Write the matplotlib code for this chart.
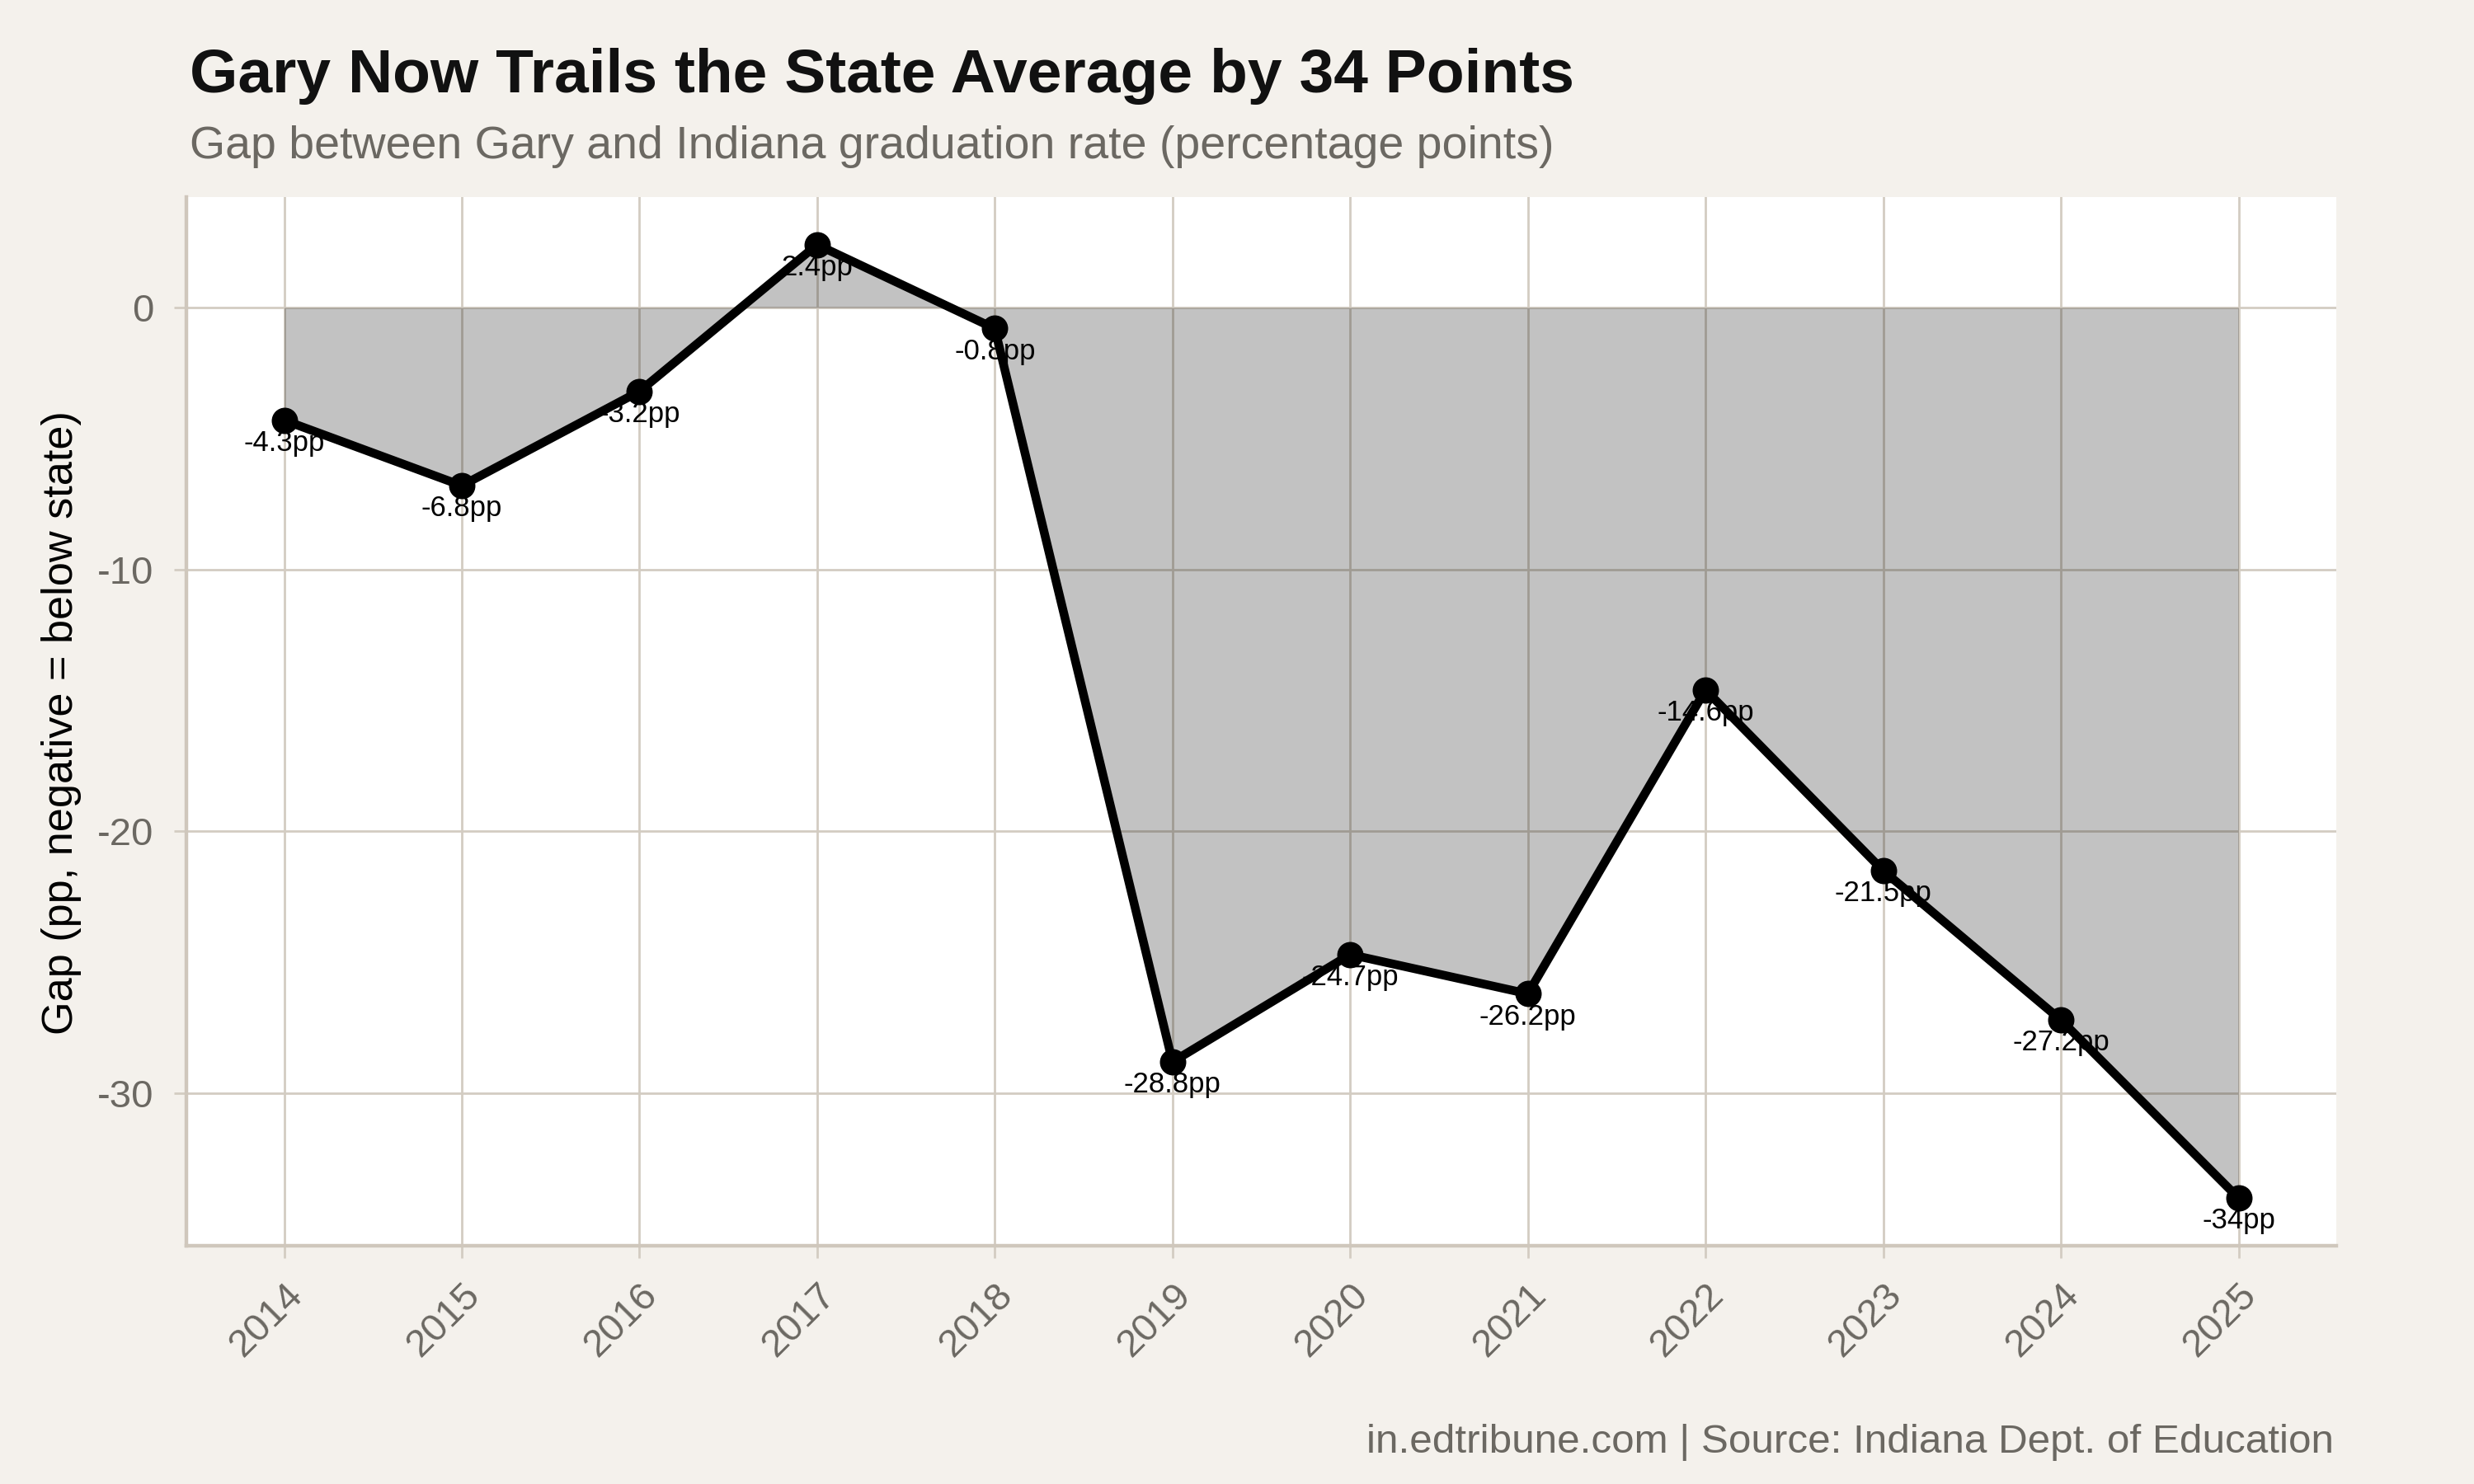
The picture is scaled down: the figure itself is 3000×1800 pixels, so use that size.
import matplotlib
matplotlib.use("Agg")
from matplotlib import pyplot as plt
from matplotlib.transforms import ScaledTranslation

years = [2014, 2015, 2016, 2017, 2018, 2019, 2020, 2021, 2022, 2023, 2024, 2025]
gap = [-4.3, -6.8, -3.2, 2.4, -0.8, -28.8, -24.7, -26.2, -14.6, -21.5, -27.2, -34.0]
y_ticks = [0, -10, -20, -30]

title = "Gary Now Trails the State Average by 34 Points"
subtitle = "Gap between Gary and Indiana graduation rate (percentage points)"
caption = "in.edtribune.com | Source: Indiana Dept. of Education"
y_label = "Gap (pp, negative = below state)"

bg = "#f4f1ec"
grid_col = "#d3ccc2"
axis_col = "#cfc7bc"
text_grey = "#6b6862"

plt.rcParams['font.family'] = ['Liberation Sans', 'DejaVu Sans']
plt.rcParams['axes.unicode_minus'] = False


def fmt_pp(v):
    s = f"{v:.1f}".rstrip('0').rstrip('.')
    return s + "pp"


W, H = 3000, 1800
fig = plt.figure(figsize=(15, 9), dpi=200, facecolor=bg)
ax = fig.add_axes([226 / W, 1 - 1511 / H, (2833 - 226) / W, (1511 - 239) / H])
ax.set_facecolor("white")

ax.fill_between(years, 0, gap, color="black", alpha=0.24, linewidth=0, zorder=2)
ax.plot(years, gap, color="black", linewidth=3.8, zorder=4)
ax.plot(years, gap, 'o', color="black", markersize=10.5, zorder=5)
for x, v in zip(years, gap):
    ax.annotate(fmt_pp(v), (x, v), xytext=(0, -4), textcoords="offset points",
                ha="center", va="top", fontsize=12.5, color="black", zorder=3)

span = max(gap) - min(gap)
ax.set_ylim(min(gap) - 0.05 * span, max(gap) + 0.05 * span)
ax.set_xlim(years[0] - 0.05 * (years[-1] - years[0]), years[-1] + 0.05 * (years[-1] - years[0]))
ax.set_xticks(years)
ax.set_xticklabels([str(y) for y in years], rotation=45, ha="right", va="top",
                   rotation_mode="anchor")
ax.set_yticks(y_ticks)
ax.set_yticklabels([str(t) for t in y_ticks])

# nudge the slanted year labels a little to the right, like the original
shift = ScaledTranslation(5 / 72, 0, fig.dpi_scale_trans)
for lab in ax.get_xticklabels():
    lab.set_transform(lab.get_transform() + shift)

ax.set_axisbelow(True)
ax.grid(True, color=grid_col, linewidth=1.0)
for side in ["top", "right"]:
    ax.spines[side].set_visible(False)
for side in ["left", "bottom"]:
    ax.spines[side].set_color(axis_col)
    ax.spines[side].set_linewidth(1.6)
ax.tick_params(axis="both", colors=grid_col, length=5.4, width=1.0, labelsize=17,
               labelcolor=text_grey)
ax.tick_params(axis="x", pad=8)
ax.tick_params(axis="y", pad=9)

fig.text(230 / W, 1 - 112 / H, title, fontsize=27, fontweight="bold", color="#111111",
         ha="left", va="baseline")
fig.text(230 / W, 1 - 192 / H, subtitle, fontsize=20, color=text_grey,
         ha="left", va="baseline")
fig.text(2830 / W, 1 - 1762 / H, caption, fontsize=17.8, color=text_grey,
         ha="right", va="baseline")
fig.text(75 / W, 1 - 877 / H, y_label, fontsize=18.8, color="black", rotation=90,
         ha="center", va="center")

plt.savefig("out.png", dpi=200, facecolor=bg)
